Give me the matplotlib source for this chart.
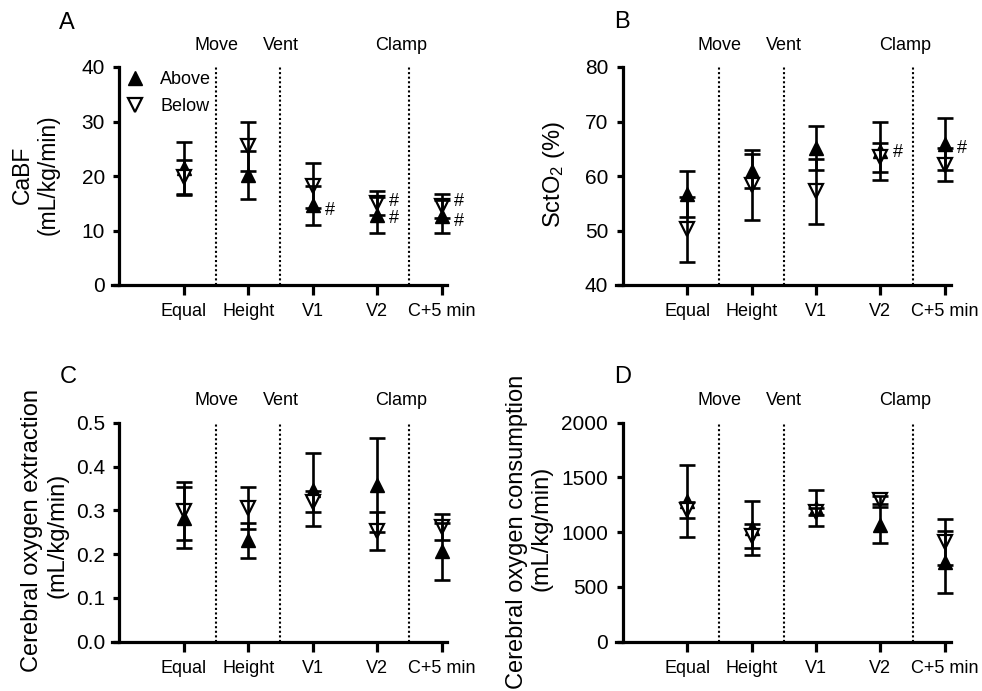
import matplotlib
matplotlib.use('Agg')
import matplotlib.pyplot as plt
import numpy as np

plt.rcParams['font.family'] = ['Liberation Sans', 'DejaVu Sans']
plt.rcParams['mathtext.fontset'] = 'custom'
plt.rcParams['mathtext.rm'] = 'Liberation Sans'
plt.rcParams['mathtext.it'] = 'Liberation Sans:italic'

# ====== データ ======
categories = ['Equal', 'Height', 'V1', 'V2', 'C+5 min']
phase_names = ['Move', 'Vent', 'Clamp']
phase_x = [1.5, 2.5, 4.38]
divider_x = [1.5, 2.5, 4.5]

# A: CaBF
cabf_above = [21.4, 20.2, 14.6, 12.9, 12.6]
cabf_above_sd = [4.8, 4.4, 3.6, 3.3, 3.0]
cabf_below = [19.8, 25.5, 18.2, 15.1, 14.5]
cabf_below_sd = [3.1, 4.5, 4.1, 2.2, 2.2]
cabf_hash_x = [3, 4, 4, 5, 5]
cabf_hash_y = [13.6, 15.3, 12.2, 15.3, 11.6]

# B: SctO2
sct_above = [56.7, 60.9, 65.1, 64.6, 65.9]
sct_above_sd = [4.3, 3.1, 4.0, 5.3, 4.8]
sct_below = [50.2, 58.3, 57.2, 63.4, 62.1]
sct_below_sd = [6.0, 6.4, 6.0, 2.7, 3.0]
sct_hash_x = [4, 5]
sct_hash_y = [64.4, 65.1]

# C: cerebral oxygen extraction
ext_above = [0.283, 0.232, 0.347, 0.358, 0.207]
ext_above_sd = [0.070, 0.040, 0.083, 0.107, 0.065]
ext_below = [0.298, 0.306, 0.320, 0.253, 0.262]
ext_below_sd = [0.066, 0.048, 0.023, 0.044, 0.030]

# D: cerebral oxygen consumption
cons_above = [1286, 1040, 1221, 1067, 730]
cons_above_sd = [327, 248, 165, 166, 283]
cons_below = [1202, 964, 1187, 1295, 908]
cons_below_sd = [75, 111, 30, 40, 208]

W, H = 982, 691


def draw_panel(ax, above, above_sd, below, below_sd, yticks, yticklabels,
               hash_x=(), hash_y=()):
    x = np.arange(1, len(categories) + 1)
    for xd in divider_x:
        ax.axvline(xd, color='black', lw=1.5, ls=(0, (1, 1.2)), zorder=1)
    ax.plot(x, above, ls='none', marker='^', ms=9.5, color='black',
            zorder=3, label='Above', clip_on=False)
    ax.plot(x, below, ls='none', marker='v', ms=9.5, mfc='white',
            mec='black', mew=1.6, zorder=4, label='Below', clip_on=False)
    for m, s in [(above, above_sd), (below, below_sd)]:
        ax.errorbar(x, m, yerr=s, fmt='none', ecolor='black', elinewidth=1.9,
                    capsize=5.7, capthick=1.9, zorder=5, clip_on=False)
    for hx, hy in zip(hash_x, hash_y):
        ax.text(hx + 0.19, hy, '#', ha='left', va='center', fontsize=13)
    for name, px in zip(phase_names, phase_x):
        ax.text(px, 1.10, name, transform=ax.get_xaxis_transform(),
                ha='center', va='center', fontsize=13)

    ax.set_xlim(-0.11, 5.09)
    ax.set_ylim(yticks[0], yticks[-1])
    ax.set_xticks(x, categories)
    ax.set_yticks(yticks, yticklabels)
    ax.spines['left'].set_position(('data', 0))
    for side in ['top', 'right']:
        ax.spines[side].set_visible(False)
    for side in ['left', 'bottom']:
        ax.spines[side].set_linewidth(2.3)
    ax.tick_params(axis='x', length=7, width=2.3, pad=6, labelsize=13)
    ax.tick_params(axis='y', length=4.5, width=2.3, pad=6, labelsize=15)


fig = plt.figure(figsize=(W / 100, H / 100), dpi=100)

# 軸の位置（ピクセル → 図の比率）
col_left = [112.4 / W, 615.7 / W]
ax_w = 334.9 / W
row_bottom = [(H - 285) / H, (H - 641.7) / H]
ax_h = [218 / H, 219 / H]

axA = fig.add_axes([col_left[0], row_bottom[0], ax_w, ax_h[0]])
axB = fig.add_axes([col_left[1], row_bottom[0], ax_w, ax_h[0]])
axC = fig.add_axes([col_left[0], row_bottom[1], ax_w, ax_h[1]])
axD = fig.add_axes([col_left[1], row_bottom[1], ax_w, ax_h[1]])

draw_panel(axA, cabf_above, cabf_above_sd, cabf_below, cabf_below_sd,
           [0, 10, 20, 30, 40], ['0', '10', '20', '30', '40'],
           cabf_hash_x, cabf_hash_y)
draw_panel(axB, sct_above, sct_above_sd, sct_below, sct_below_sd,
           [40, 50, 60, 70, 80], ['40', '50', '60', '70', '80'],
           sct_hash_x, sct_hash_y)
draw_panel(axC, ext_above, ext_above_sd, ext_below, ext_below_sd,
           [0, 0.1, 0.2, 0.3, 0.4, 0.5],
           ['0.0', '0.1', '0.2', '0.3', '0.4', '0.5'])
draw_panel(axD, cons_above, cons_above_sd, cons_below, cons_below_sd,
           [0, 500, 1000, 1500, 2000], ['0', '500', '1000', '1500', '2000'])

axA.legend(loc='upper left', bbox_to_anchor=(0.019, 1.015), frameon=False,
           handlelength=1.0, handletextpad=0.9, fontsize=13,
           labelspacing=0.55, borderaxespad=0, borderpad=0.4)

# パネル文字
for letter, px, py in [('A', 59, 23), ('B', 614, 22), ('C', 60, 377), ('D', 614, 377)]:
    fig.text(px / W, 1 - py / H, letter, ha='left', va='center', fontsize=17)

# y軸ラベル（1行ずつベースライン位置で配置）
ylabel_lines = [
    ('CaBF', 29.3, 175, 16.5),
    ('(mL/kg/min)', 55, 175, 16.5),
    ('SctO$_{\\mathrm{2}}$ (%)', 560, 174.5, 17),
    ('Cerebral oxygen extraction', 38, 531, 17),
    ('(mL/kg/min)', 63.5, 535, 17),
    ('Cerebral oxygen consumption', 523, 531.5, 17),
    ('(mL/kg/min)', 548, 528.5, 17),
]
for txt, bx, cy, fs in ylabel_lines:
    fig.text(bx / W, 1 - cy / H, txt, rotation=90, rotation_mode='anchor',
             ha='center', va='baseline', fontsize=fs)

fig.savefig('out.png', dpi=100)
